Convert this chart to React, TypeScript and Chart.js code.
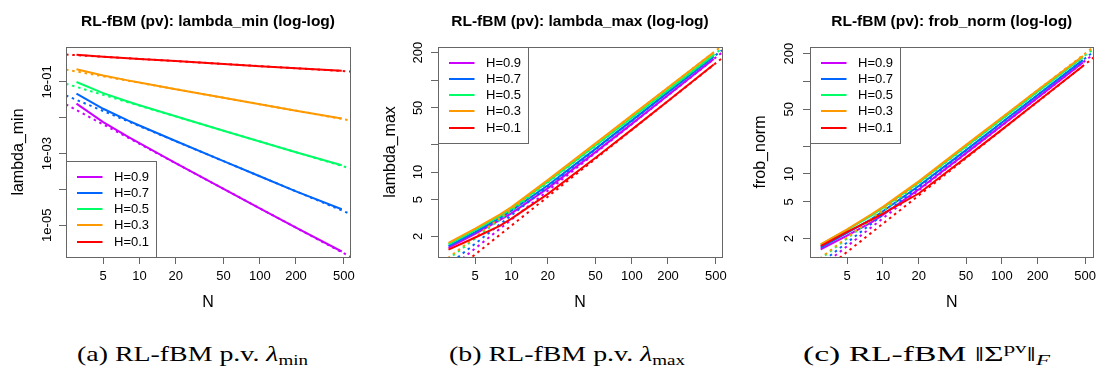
import React, { useEffect, useRef } from "react";
import { Chart, registerables } from "chart.js";

Chart.register(...registerables);

// ---------------- data ----------------
const N = [3, 5, 8, 10, 20, 50, 100, 200, 480];
const H_LABELS = ["H=0.9", "H=0.7", "H=0.5", "H=0.3", "H=0.1"];
const H_COLORS = ["#CC00FF", "#0066FF", "#00FF66", "#FF9900", "#FF0000"];
const X_TICKS = [5, 10, 20, 50, 100, 200, 500];
const X_TICK_LABELS = ["5", "10", "20", "50", "100", "200", "500"];

// (a) lambda_min
const LMIN_H09 = [0.0249, 0.0076, 0.00298, 0.00195, 0.000545, 1.04e-4, 2.98e-5, 8.55e-6, 1.85e-6];
const LMIN_H07 = [0.0475, 0.0179, 0.00851, 0.0061, 0.00225, 6.17e-4, 2.34e-4, 8.86e-5, 2.79e-5];
const LMIN_H05 = [0.1, 0.049, 0.0285, 0.0224, 0.011, 0.00437, 0.00218, 0.00109, 4.76e-4];
const LMIN_H03 = [0.226, 0.152, 0.111, 0.0966, 0.0631, 0.0363, 0.0239, 0.0158, 0.00955];
const LMIN_H01 = [0.572, 0.51, 0.461, 0.441, 0.383, 0.319, 0.277, 0.241, 0.207];
const LMIN_FIT_SLOPE = [-1.8, -1.4, -1.0, -0.6, -0.2];
const LMIN_FIT_INTERCEPT = [-0.926, -0.831, -0.661, -0.421, -0.157];
const LMIN_Y_TICKS = [1e-1, 1e-2, 1e-3, 1e-4, 1e-5];
const LMIN_Y_TICK_LABELS = ["1e-01", "", "1e-03", "", "1e-05"];

// (b) lambda_max
const LMAX_H09 = [1.5, 2.12, 3.0, 3.55, 6.65, 16.5, 33.5, 68.6, 170];
const LMAX_H07 = [1.56, 2.22, 3.15, 3.81, 7.15, 17.9, 36.3, 73.8, 181];
const LMAX_H05 = [1.63, 2.33, 3.31, 4.0, 7.8, 19.5, 39.1, 78.5, 189];
const LMAX_H03 = [1.7, 2.43, 3.45, 4.17, 8.2, 20.6, 41.4, 83.3, 201];
const LMAX_H01 = [1.43, 1.94, 2.6, 3.12, 5.75, 14.3, 29.0, 59.5, 148];
const LMAX_FIT_SLOPE = [1.04, 1.027, 1.0086, 1.015, 1.042];
const LMAX_FIT_INTERCEPT = [-0.558, -0.497, -0.4276, -0.417, -0.625];

// (c) frob_norm
const FROB_H09 = [1.53, 2.15, 3.0, 3.6, 6.8, 16.8, 33.5, 66.8, 160];
const FROB_H07 = [1.6, 2.3, 3.25, 3.95, 7.4, 18.1, 35.9, 71.4, 170];
const FROB_H05 = [1.72, 2.48, 3.55, 4.3, 8.05, 19.8, 39.0, 77.2, 183];
const FROB_H03 = [1.73, 2.52, 3.65, 4.4, 8.3, 20.6, 40.7, 80.7, 188];
const FROB_H01 = [1.66, 2.36, 3.18, 3.73, 6.14, 15.1, 30.1, 60.6, 147];
const FROB_FIT_SLOPE = [1.002, 0.995, 0.989, 0.994, 1.014];
const FROB_FIT_INTERCEPT = [-0.482, -0.437, -0.389, -0.382, -0.552];

const POS_Y_TICKS = [2, 5, 10, 20, 50, 100, 200];
const POS_Y_TICK_LABELS = ["2", "5", "10", "", "50", "", "200"];

// ---------------- styling ----------------
const SANS = "'Liberation Sans', Arial, Helvetica, sans-serif";
const SERIF = "'Liberation Serif', 'DejaVu Serif', 'Times New Roman', serif";
const FRAME = "#666666";
const TEXT = "#000000";
const CANVAS_W = 367;
const CANVAS_H = 320;
const TICK_LEN = 7;

type PanelSpec = {
  offset: number;
  title: string;
  yTitle: string;
  series: number[][];
  fitSlope: number[];
  fitIntercept: number[];
  yTicks: number[];
  yTickLabels: string[];
  xRange: [number, number];
  yRange: [number, number];
  legendCorner: "top" | "bottom";
  plotL: number;
  plotR: number;
  plotT: number;
  plotB: number;
  yTitleX: number;
  yTickX: number;
};

const PANELS: PanelSpec[] = [
  {
    offset: 0,
    title: "RL-fBM (pv): lambda_min (log-log)",
    yTitle: "lambda_min",
    series: [LMIN_H09, LMIN_H07, LMIN_H05, LMIN_H03, LMIN_H01],
    fitSlope: LMIN_FIT_SLOPE,
    fitIntercept: LMIN_FIT_INTERCEPT,
    yTicks: LMIN_Y_TICKS,
    yTickLabels: LMIN_Y_TICK_LABELS,
    xRange: [2.455, 562],
    yRange: [1.3e-6, 0.948],
    legendCorner: "bottom",
    plotL: 66,
    plotR: 350,
    plotT: 47,
    plotB: 257,
    yTitleX: 19,
    yTickX: 47,
  },
  {
    offset: 367,
    title: "RL-fBM (pv): lambda_max (log-log)",
    yTitle: "lambda_max",
    series: [LMAX_H09, LMAX_H07, LMAX_H05, LMAX_H03, LMAX_H01],
    fitSlope: LMAX_FIT_SLOPE,
    fitIntercept: LMAX_FIT_INTERCEPT,
    yTicks: POS_Y_TICKS,
    yTickLabels: POS_Y_TICK_LABELS,
    xRange: [2.455, 562],
    yRange: [1.19, 230],
    legendCorner: "top",
    plotL: 71,
    plotR: 355,
    plotT: 47,
    plotB: 257,
    yTitleX: 24,
    yTickX: 51.7,
  },
  {
    offset: 734,
    title: "RL-fBM (pv): frob_norm (log-log)",
    yTitle: "frob_norm",
    series: [FROB_H09, FROB_H07, FROB_H05, FROB_H03, FROB_H01],
    fitSlope: FROB_FIT_SLOPE,
    fitIntercept: FROB_FIT_INTERCEPT,
    yTicks: POS_Y_TICKS,
    yTickLabels: POS_Y_TICK_LABELS,
    xRange: [2.44, 589],
    yRange: [1.265, 235.5],
    legendCorner: "top",
    plotL: 76,
    plotR: 361,
    plotT: 47,
    plotB: 257,
    yTitleX: 27,
    yTickX: 55.8,
  },
];

const framePlugin = {
  id: "rframe",
  afterDraw(chart: any) {
    const { ctx, chartArea: a } = chart;
    ctx.save();
    ctx.strokeStyle = FRAME;
    ctx.lineWidth = 1;
    const l = Math.round(a.left) + 0.5;
    const t = Math.round(a.top) + 0.5;
    ctx.strokeRect(l, t, Math.round(a.right) - Math.round(a.left), Math.round(a.bottom) - Math.round(a.top));
    ctx.restore();
  },
};

const insideLegendPlugin = {
  id: "insideLegend",
  afterDraw(chart: any, _args: any, opts: any) {
    const { ctx, chartArea: a } = chart;
    const entries = chart.data.datasets.filter((d: any) => d.label);
    const w = 90;
    const h = 96;
    const x0 = Math.round(a.left);
    const y0 = opts.corner === "bottom" ? Math.round(a.bottom) - h : Math.round(a.top);
    ctx.save();
    ctx.fillStyle = "#ffffff";
    ctx.fillRect(x0, y0, w, h);
    ctx.strokeStyle = FRAME;
    ctx.lineWidth = 1;
    ctx.strokeRect(x0 + 0.5, y0 + 0.5, w, h);
    entries.forEach((d: any, i: number) => {
      const y = Math.round(y0 + 15.8 + i * 16.2);
      ctx.strokeStyle = d.borderColor;
      ctx.lineWidth = 2;
      ctx.setLineDash([]);
      ctx.beginPath();
      ctx.moveTo(x0 + 11, y);
      ctx.lineTo(x0 + 36.5, y);
      ctx.stroke();
      ctx.fillStyle = TEXT;
      ctx.font = `13px ${SANS}`;
      ctx.textBaseline = "middle";
      ctx.textAlign = "left";
      ctx.fillText(d.label, x0 + 48, y);
    });
    ctx.restore();
  },
};

function measureWidest(labels: string[], font: string): number {
  const c = document.createElement("canvas");
  const cx = c.getContext("2d");
  if (!cx) return 0;
  cx.font = font;
  return Math.max(...labels.map((s) => cx.measureText(s).width));
}

function Panel({ spec }: { spec: PanelSpec }) {
  const ref = useRef<HTMLCanvasElement | null>(null);

  useEffect(() => {
    if (!ref.current) return;
    const datasets: any[] = [];
    const [xMin, xMax] = spec.xRange;
    spec.series.forEach((vals, i) => {
      datasets.push({
        label: H_LABELS[i],
        data: N.map((n, k) => ({ x: n, y: vals[k] })),
        borderColor: H_COLORS[i],
        backgroundColor: H_COLORS[i],
        borderWidth: 2,
        pointRadius: 0,
        tension: 0,
        fill: false,
        order: (4 - i) * 2 + 1,
      });
      const fit = (x: number) => Math.pow(10, spec.fitIntercept[i] + spec.fitSlope[i] * Math.log10(x));
      datasets.push({
        label: "",
        data: [
          { x: xMin, y: fit(xMin) },
          { x: xMax, y: fit(xMax) },
        ],
        borderColor: H_COLORS[i],
        backgroundColor: H_COLORS[i],
        borderWidth: 2,
        borderDash: [2.5, 3.8],
        pointRadius: 0,
        fill: false,
        clip: 0,
        order: (4 - i) * 2,
      });
    });

    const tickFont = `13px ${SANS}`;
    const widest = measureWidest(spec.yTickLabels, tickFont);
    const yTickPad = spec.plotL - TICK_LEN - widest / 2 - spec.yTickX;

    const chart = new Chart(ref.current, {
      type: "line",
      data: { datasets },
      plugins: [framePlugin, insideLegendPlugin],
      options: {
        animation: false,
        responsive: false,
        devicePixelRatio: 1,
        events: [],
        layout: { padding: { left: 0, top: 0, bottom: 0, right: CANVAS_W - spec.plotR } },
        plugins: {
          legend: { display: false },
          tooltip: { enabled: false },
          title: {
            display: true,
            text: spec.title,
            fullSize: false,
            color: TEXT,
            font: { family: SANS, size: 15.5, weight: "bold", lineHeight: 1.2 },
            padding: { top: 12.2, bottom: spec.plotT - 12.2 - 18.6 },
          },
          insideLegend: { corner: spec.legendCorner },
        } as any,
        scales: {
          x: {
            type: "logarithmic",
            position: "bottom",
            min: xMin,
            max: xMax,
            afterBuildTicks: (s: any) => {
              s.ticks = X_TICKS.map((v) => ({ value: v }));
            },
            afterFit: (s: any) => {
              s.height = CANVAS_H - spec.plotB;
            },
            ticks: {
              autoSkip: false,
              minRotation: 0,
              maxRotation: 0,
              padding: 4.9,
              color: TEXT,
              font: { family: SANS, size: 13 },
              callback: (_v: any, i: number) => X_TICK_LABELS[i],
            },
            grid: {
              display: true,
              drawOnChartArea: false,
              drawTicks: true,
              tickLength: TICK_LEN,
              tickColor: FRAME,
              tickWidth: 1,
            },
            border: { display: false },
            title: {
              display: true,
              text: "N",
              color: TEXT,
              font: { family: SANS, size: 16, lineHeight: 1.2 },
              padding: { top: 0, bottom: 7.9 },
            },
          },
          y: {
            type: "logarithmic",
            position: "left",
            min: spec.yRange[0],
            max: spec.yRange[1],
            afterBuildTicks: (s: any) => {
              s.ticks = spec.yTicks.map((v) => ({ value: v }));
            },
            afterFit: (s: any) => {
              s.width = spec.plotL;
            },
            ticks: {
              autoSkip: false,
              minRotation: 90,
              maxRotation: 90,
              crossAlign: "center",
              padding: yTickPad,
              color: TEXT,
              font: { family: SANS, size: 13 },
              callback: (_v: any, i: number) => spec.yTickLabels[i],
            },
            grid: {
              display: true,
              drawOnChartArea: false,
              drawTicks: true,
              tickLength: TICK_LEN,
              tickColor: FRAME,
              tickWidth: 1,
            },
            border: { display: false },
            title: {
              display: true,
              text: spec.yTitle,
              color: TEXT,
              font: { family: SANS, size: 16, lineHeight: 1.2 },
              padding: { top: spec.yTitleX - 9.6, bottom: 0 },
            },
          },
        } as any,
      },
    });
    return () => chart.destroy();
  }, [spec]);

  return (
    <div style={{ position: "absolute", left: spec.offset, top: 0, width: CANVAS_W, height: CANVAS_H }}>
      <canvas
        ref={ref}
        width={CANVAS_W}
        height={CANVAS_H}
        style={{ display: "block", width: CANVAS_W, height: CANVAS_H }}
      />
    </div>
  );
}

// Caption: stretched horizontally to span [left, right] like the LaTeX caption
function Caption({ left, right, children }: { left: number; right: number; children: React.ReactNode }) {
  const ref = useRef<HTMLSpanElement | null>(null);
  useEffect(() => {
    const el = ref.current;
    if (!el) return;
    el.style.transform = "none";
    const w = el.getBoundingClientRect().width;
    if (w > 0) el.style.transform = `scaleX(${(right - left) / w})`;
  }, [left, right]);
  return (
    <div
      style={{
        position: "absolute",
        left,
        top: 343.5,
        width: right - left,
        fontFamily: SERIF,
        fontSize: 22,
        lineHeight: "20px",
        whiteSpace: "nowrap",
        color: "#000",
      }}
    >
      <span ref={ref} style={{ display: "inline-block", transformOrigin: "left center", whiteSpace: "nowrap" }}>
        {children}
      </span>
    </div>
  );
}

const subStyle: React.CSSProperties = { fontSize: 15, position: "relative", top: 4 };
const supStyle: React.CSSProperties = { fontSize: 15, position: "relative", top: -8 };

export default function App() {
  return (
    <div
      style={{
        position: "fixed",
        left: 0,
        top: 0,
        width: 1101,
        height: 367,
        background: "#ffffff",
        overflow: "hidden",
      }}
    >
      {PANELS.map((p, i) => (
        <Panel key={i} spec={p} />
      ))}
      <Caption left={77} right={308}>
        (a) RL-fBM p.v. <i>λ</i>
        <span style={subStyle}>min</span>
      </Caption>
      <Caption left={449} right={685}>
        (b) RL-fBM p.v. <i>λ</i>
        <span style={subStyle}>max</span>
      </Caption>
      <Caption left={803} right={1050}>
        (c) RL-fBM ‖Σ<span style={supStyle}>pv</span>‖<span style={subStyle}><i>F</i></span>
      </Caption>
    </div>
  );
}
